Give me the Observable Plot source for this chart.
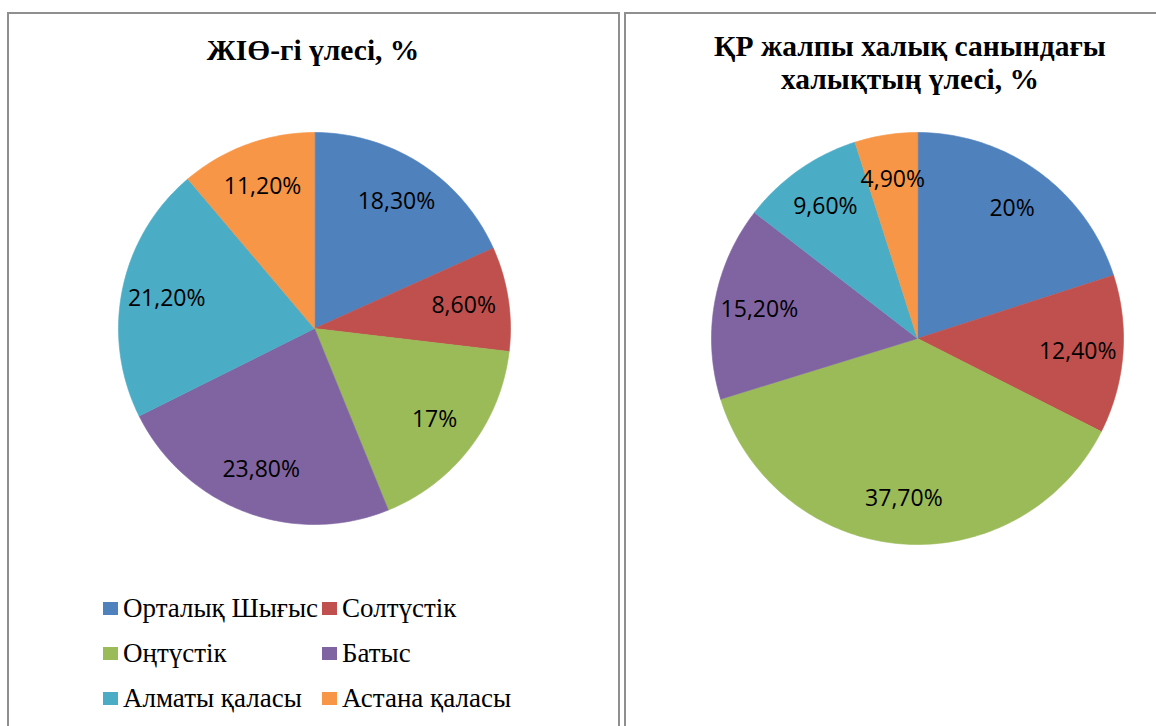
<!DOCTYPE html>
<html><head><meta charset="utf-8">
<script src="https://cdn.jsdelivr.net/npm/d3@7"></script>
<script src="https://cdn.jsdelivr.net/npm/@observablehq/plot@0.6"></script>
<style>
html,body{margin:0;padding:0;background:#fff;width:1156px;height:726px;overflow:hidden;position:relative;}
.panel{position:absolute;border:2px solid #8f8f8f;box-sizing:border-box;}
.title{position:absolute;font-family:"Liberation Serif","Times New Roman",serif;font-weight:bold;font-size:29.5px;text-align:center;color:#000;line-height:33px;}
.legend{position:absolute;left:0;top:0;font-family:"Liberation Serif","Times New Roman",serif;font-size:27px;color:#000;}
.lt{position:absolute;white-space:nowrap;line-height:27px;}
.sw{position:absolute;width:15px;height:13px;}
.pie{position:absolute;}
</style></head>
<body>
<div class="panel" style="left:7px;top:12px;width:613px;height:740px;"></div>
<div class="panel" style="left:624px;top:12px;width:560px;height:740px;"></div>
<div class="title" style="left:13px;top:34px;width:600px;">ЖІӨ-гі үлесі, %</div>
<div class="title" style="left:630px;top:30px;width:560px;">ҚР жалпы халық санындағы<br>халықтың үлесі, %</div>
<div id="legend" class="legend"></div>
<div id="pie1" class="pie" style="left:114px;top:128px;"></div>
<div id="pie2" class="pie" style="left:707px;top:128px;"></div>
<script>
const regions = ["Орталық Шығыс","Солтүстік","Оңтүстік","Батыс","Алматы қаласы","Астана қаласы"];
const gdpShare = [18.3, 8.6, 17, 23.8, 21.2, 11.2];
const popShare = [20, 12.4, 37.7, 15.2, 9.6, 4.9];
const colors = ["#4F81BD","#C0504D","#9BBB59","#8064A2","#4BACC6","#F79646"];

const fmt = v => Number.isInteger(v) ? v + "%" : v.toFixed(2).replace(".", ",") + "%";

function pieChart(values, radiusPx, labelR) {
  const arcs = d3.pie().sort(null)(values);
  const pts = [];
  arcs.forEach((a, i) => {
    pts.push({region: regions[i], x: 0, y: 0});
    const n = Math.max(2, Math.ceil((a.endAngle - a.startAngle) * 180 / Math.PI));
    for (let k = 0; k <= n; k++) {
      const ang = a.startAngle + (a.endAngle - a.startAngle) * k / n;
      pts.push({region: regions[i], x: Math.sin(ang), y: Math.cos(ang)});
    }
  });
  const labels = arcs.map((a, i) => {
    const m = (a.startAngle + a.endAngle) / 2;
    return {region: regions[i], x: labelR * Math.sin(m), y: labelR * Math.cos(m), text: fmt(values[i])};
  });
  const size = 2 * radiusPx + 8;
  return Plot.plot({
    width: size, height: size,
    margin: 4,
    x: {domain: [-1, 1], axis: null},
    y: {domain: [-1, 1], axis: null},
    color: {domain: regions, range: colors},
    style: {background: "transparent", overflow: "visible"},
    marks: [
      Plot.line(pts, {x: "x", y: "y", z: "region", fill: "region", stroke: "region", strokeWidth: 0.6, curve: "linear-closed"}),
      Plot.text(labels, {x: "x", y: "y", text: "text", fill: "#000", fontSize: 23, fontFamily: "'Open Sans', sans-serif"})
    ]
  });
}

document.getElementById("pie1").appendChild(pieChart(gdpShare, 196, 0.77));
document.getElementById("pie2").appendChild(pieChart(popShare, 206, 0.78));

const lg = document.getElementById("legend");
const cols = [103, 322], baselines = [618, 663, 708];
regions.forEach((r, i) => {
  const x = cols[i % 2], b = baselines[Math.floor(i / 2)];
  const sw = document.createElement("div");
  sw.className = "sw";
  sw.style.left = x + "px";
  sw.style.top = (b - 16) + "px";
  sw.style.background = colors[i];
  lg.appendChild(sw);
  const t = document.createElement("div");
  t.className = "lt";
  t.style.left = (x + 20) + "px";
  t.style.top = (b - 22.6) + "px";
  t.textContent = r;
  lg.appendChild(t);
});
</script>
</body></html>
